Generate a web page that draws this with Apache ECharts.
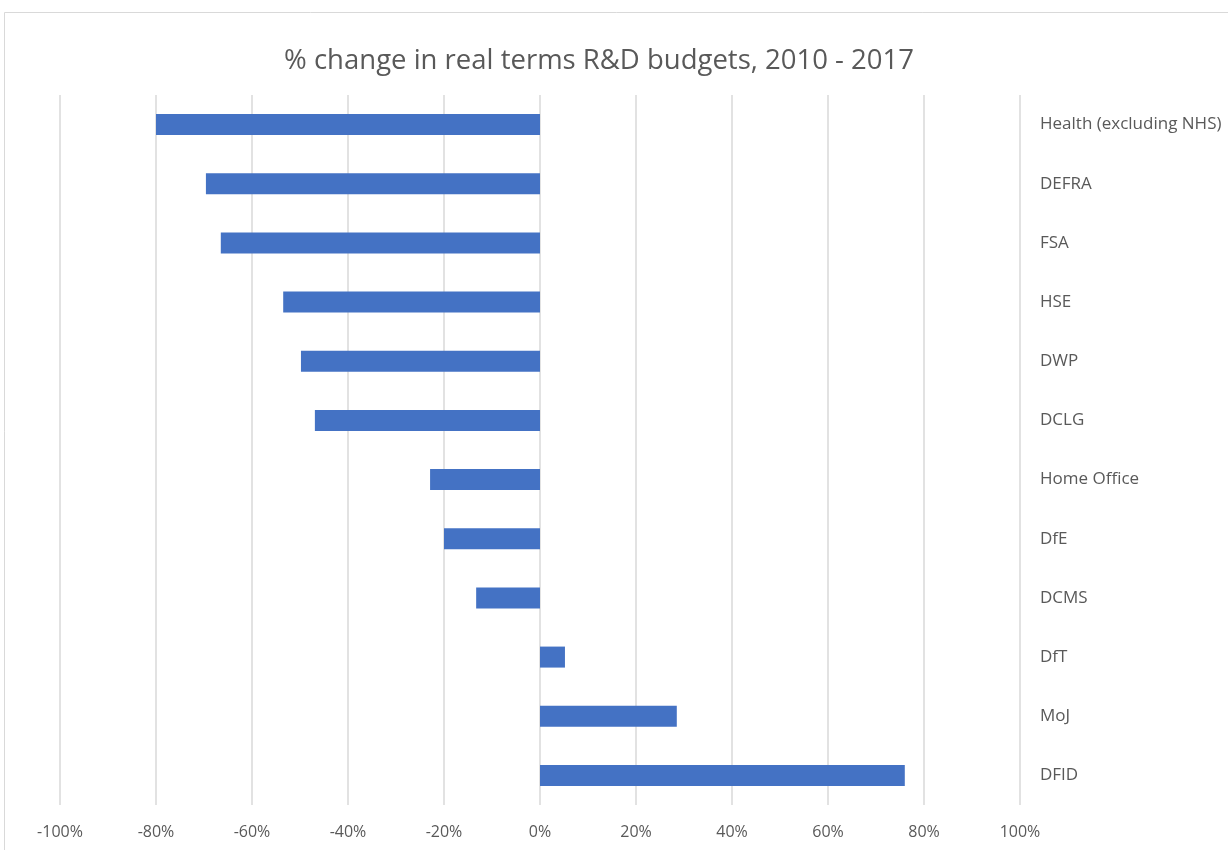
<!DOCTYPE html>
<html>
<head>
<meta charset="utf-8">
<script src="https://cdn.jsdelivr.net/npm/echarts@6/dist/echarts.min.js"></script>
<style>
html,body{margin:0;padding:0;background:#fff;}
#chart{width:1228px;height:850px;}
</style>
</head>
<body>
<div id="chart"></div>
<script>
const categories = ["Health (excluding NHS)", "DEFRA", "FSA", "HSE", "DWP", "DCLG", "Home Office", "DfE", "DCMS", "DfT", "MoJ", "DFID"];
const values = [-80, -69.6, -66.5, -53.5, -49.8, -46.9, -22.9, -20, -13.3, 5.2, 28.5, 76];
const titleText = "% change in real terms R&D budgets, 2010 - 2017";

const chart = echarts.init(document.getElementById('chart'), null, {renderer: 'canvas'});
const font = '"Open Sans", "Noto Sans", sans-serif';
chart.setOption({
  animation: false,
  backgroundColor: '#ffffff',
  graphic: [{
    type: 'rect',
    shape: {x: 4.5, y: 12.5, width: 1400, height: 1000},
    style: {fill: 'none', stroke: '#d9d9d9', lineWidth: 1},
    silent: true
  }],
  title: {
    text: titleText,
    left: 594,
    textAlign: 'center',
    top: 42,
    textStyle: {fontFamily: font, fontSize: 27.5, fontWeight: 'normal', color: '#595959'}
  },
  grid: {left: 60, right: 208, top: 95, bottom: 45, containLabel: false},
  xAxis: {
    type: 'value',
    min: -100, max: 100, interval: 20,
    axisLine: {show: false},
    axisTick: {show: false},
    splitLine: {show: true, lineStyle: {color: '#d9d9d9', width: 1.5}},
    axisLabel: {formatter: '{value}%', color: '#595959', fontFamily: font, fontSize: 16, margin: 19}
  },
  yAxis: {
    type: 'category',
    data: categories,
    inverse: true,
    position: 'right',
    axisLine: {show: false},
    axisTick: {show: false},
    axisLabel: {color: '#595959', fontFamily: font, fontSize: 17, margin: 20, align: 'left'}
  },
  series: [{
    type: 'bar',
    data: values,
    barWidth: 21,
    itemStyle: {color: '#4472c4'}
  }]
});
</script>
</body>
</html>
